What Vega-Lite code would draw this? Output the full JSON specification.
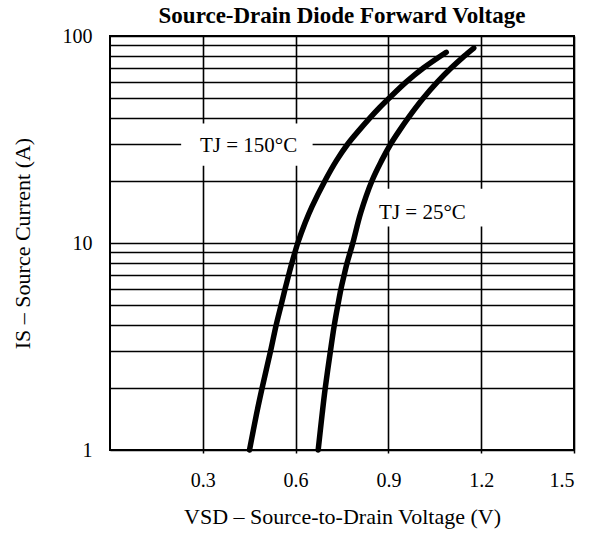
{
  "$schema": "https://vega.github.io/schema/vega-lite/v6.json",
  "width": 464,
  "height": 414,
  "autosize": {"type": "none"},
  "padding": {"left": 110, "top": 36, "right": 19, "bottom": 89},
  "background": "white",
  "title": {
    "text": "Source-Drain Diode Forward Voltage",
    "font": "Liberation Serif",
    "fontSize": 23,
    "fontWeight": "bold",
    "color": "black",
    "anchor": "middle",
    "frame": "group",
    "offset": -2
  },
  "config": {
    "view": {"stroke": "black", "strokeWidth": 2},
    "axis": {
      "labelFont": "Liberation Serif",
      "labelFontSize": 20,
      "labelColor": "black",
      "titleFont": "Liberation Serif",
      "titleFontSize": 22,
      "titleFontWeight": "normal",
      "titleColor": "black",
      "gridColor": "black",
      "gridWidth": 1.6,
      "gridOpacity": 1,
      "domain": false,
      "tickColor": "black",
      "tickWidth": 1.5
    }
  },
  "datasets": {
    "curves": [
      {"series": "150", "v": 0.451, "i": 1},
      {"series": "150", "v": 0.474, "i": 1.5},
      {"series": "150", "v": 0.492, "i": 2},
      {"series": "150", "v": 0.519, "i": 3},
      {"series": "150", "v": 0.537, "i": 4},
      {"series": "150", "v": 0.553, "i": 5},
      {"series": "150", "v": 0.566, "i": 6},
      {"series": "150", "v": 0.5775, "i": 7},
      {"series": "150", "v": 0.588, "i": 8},
      {"series": "150", "v": 0.607, "i": 10},
      {"series": "150", "v": 0.6305, "i": 12.5},
      {"series": "150", "v": 0.653, "i": 15},
      {"series": "150", "v": 0.695, "i": 20},
      {"series": "150", "v": 0.732, "i": 25},
      {"series": "150", "v": 0.768, "i": 30},
      {"series": "150", "v": 0.805, "i": 35},
      {"series": "150", "v": 0.839, "i": 40},
      {"series": "150", "v": 0.871, "i": 45},
      {"series": "150", "v": 0.902, "i": 50},
      {"series": "150", "v": 0.958, "i": 60},
      {"series": "150", "v": 1.013, "i": 70},
      {"series": "150", "v": 1.087, "i": 83.4},
      {"series": "25", "v": 0.673, "i": 1},
      {"series": "25", "v": 0.686, "i": 1.5},
      {"series": "25", "v": 0.696, "i": 2},
      {"series": "25", "v": 0.7125, "i": 3},
      {"series": "25", "v": 0.725, "i": 4},
      {"series": "25", "v": 0.7366, "i": 5},
      {"series": "25", "v": 0.7467, "i": 6},
      {"series": "25", "v": 0.757, "i": 7},
      {"series": "25", "v": 0.7664, "i": 8},
      {"series": "25", "v": 0.785, "i": 10},
      {"series": "25", "v": 0.8105, "i": 14},
      {"series": "25", "v": 0.847, "i": 20},
      {"series": "25", "v": 0.878, "i": 25},
      {"series": "25", "v": 0.907, "i": 30},
      {"series": "25", "v": 0.936, "i": 35},
      {"series": "25", "v": 0.963, "i": 40},
      {"series": "25", "v": 1.0125, "i": 50},
      {"series": "25", "v": 1.0586, "i": 60},
      {"series": "25", "v": 1.1027, "i": 70},
      {"series": "25", "v": 1.145, "i": 80},
      {"series": "25", "v": 1.176, "i": 87.5}
    ],
    "labels": [
      {"text": "TJ = 150°C", "v": 0.448, "i": 29.5, "v1": 0.23, "v2": 0.655, "i1": 23.6, "i2": 37.8},
      {"text": "TJ = 25°C", "v": 1.01, "i": 14.0, "v1": 0.84, "v2": 1.24, "i1": 12.0, "i2": 18.3}
    ]
  },
  "layer": [
    {
      "data": {"name": "labels"},
      "mark": {"type": "rect", "fill": "white", "stroke": null},
      "encoding": {
        "x": {
          "field": "v1",
          "type": "quantitative",
          "scale": {"domain": [0, 1.5], "nice": false, "zero": false},
          "axis": {
            "values": [0.3, 0.6, 0.9, 1.2, 1.5],
            "format": ".1f",
            "grid": true,
            "ticks": true,
            "tickSize": 3,
            "labelPadding": 17,
            "title": "VSD  –  Source-to-Drain Voltage (V)",
            "titlePadding": 16
          }
        },
        "x2": {"field": "v2"},
        "y": {
          "field": "i1",
          "type": "quantitative",
          "scale": {"type": "log", "domain": [1, 100], "nice": false},
          "axis": {
            "values": [1, 2, 3, 4, 5, 6, 7, 8, 9, 10, 20, 30, 40, 50, 60, 70, 80, 90, 100],
            "format": ".0f",
            "labelExpr": "indexof([1, 10, 100], datum.value) >= 0 ? datum.label : ''",
            "grid": true,
            "ticks": false,
            "labelPadding": 18,
            "title": "IS  –  Source Current (A)",
            "titlePadding": 28
          }
        },
        "y2": {"field": "i2"}
      }
    },
    {
      "data": {"name": "curves"},
      "mark": {"type": "line", "color": "black", "strokeWidth": 5.5, "interpolate": "catmull-rom", "strokeCap": "round"},
      "encoding": {
        "x": {"field": "v", "type": "quantitative"},
        "y": {"field": "i", "type": "quantitative"},
        "detail": {"field": "series"},
        "order": {"field": "v", "type": "quantitative"}
      }
    },
    {
      "data": {"name": "labels"},
      "mark": {"type": "text", "font": "Liberation Serif", "fontSize": 21, "color": "black", "align": "center", "baseline": "middle"},
      "encoding": {
        "x": {"field": "v", "type": "quantitative"},
        "y": {"field": "i", "type": "quantitative"},
        "text": {"field": "text"}
      }
    }
  ]
}
